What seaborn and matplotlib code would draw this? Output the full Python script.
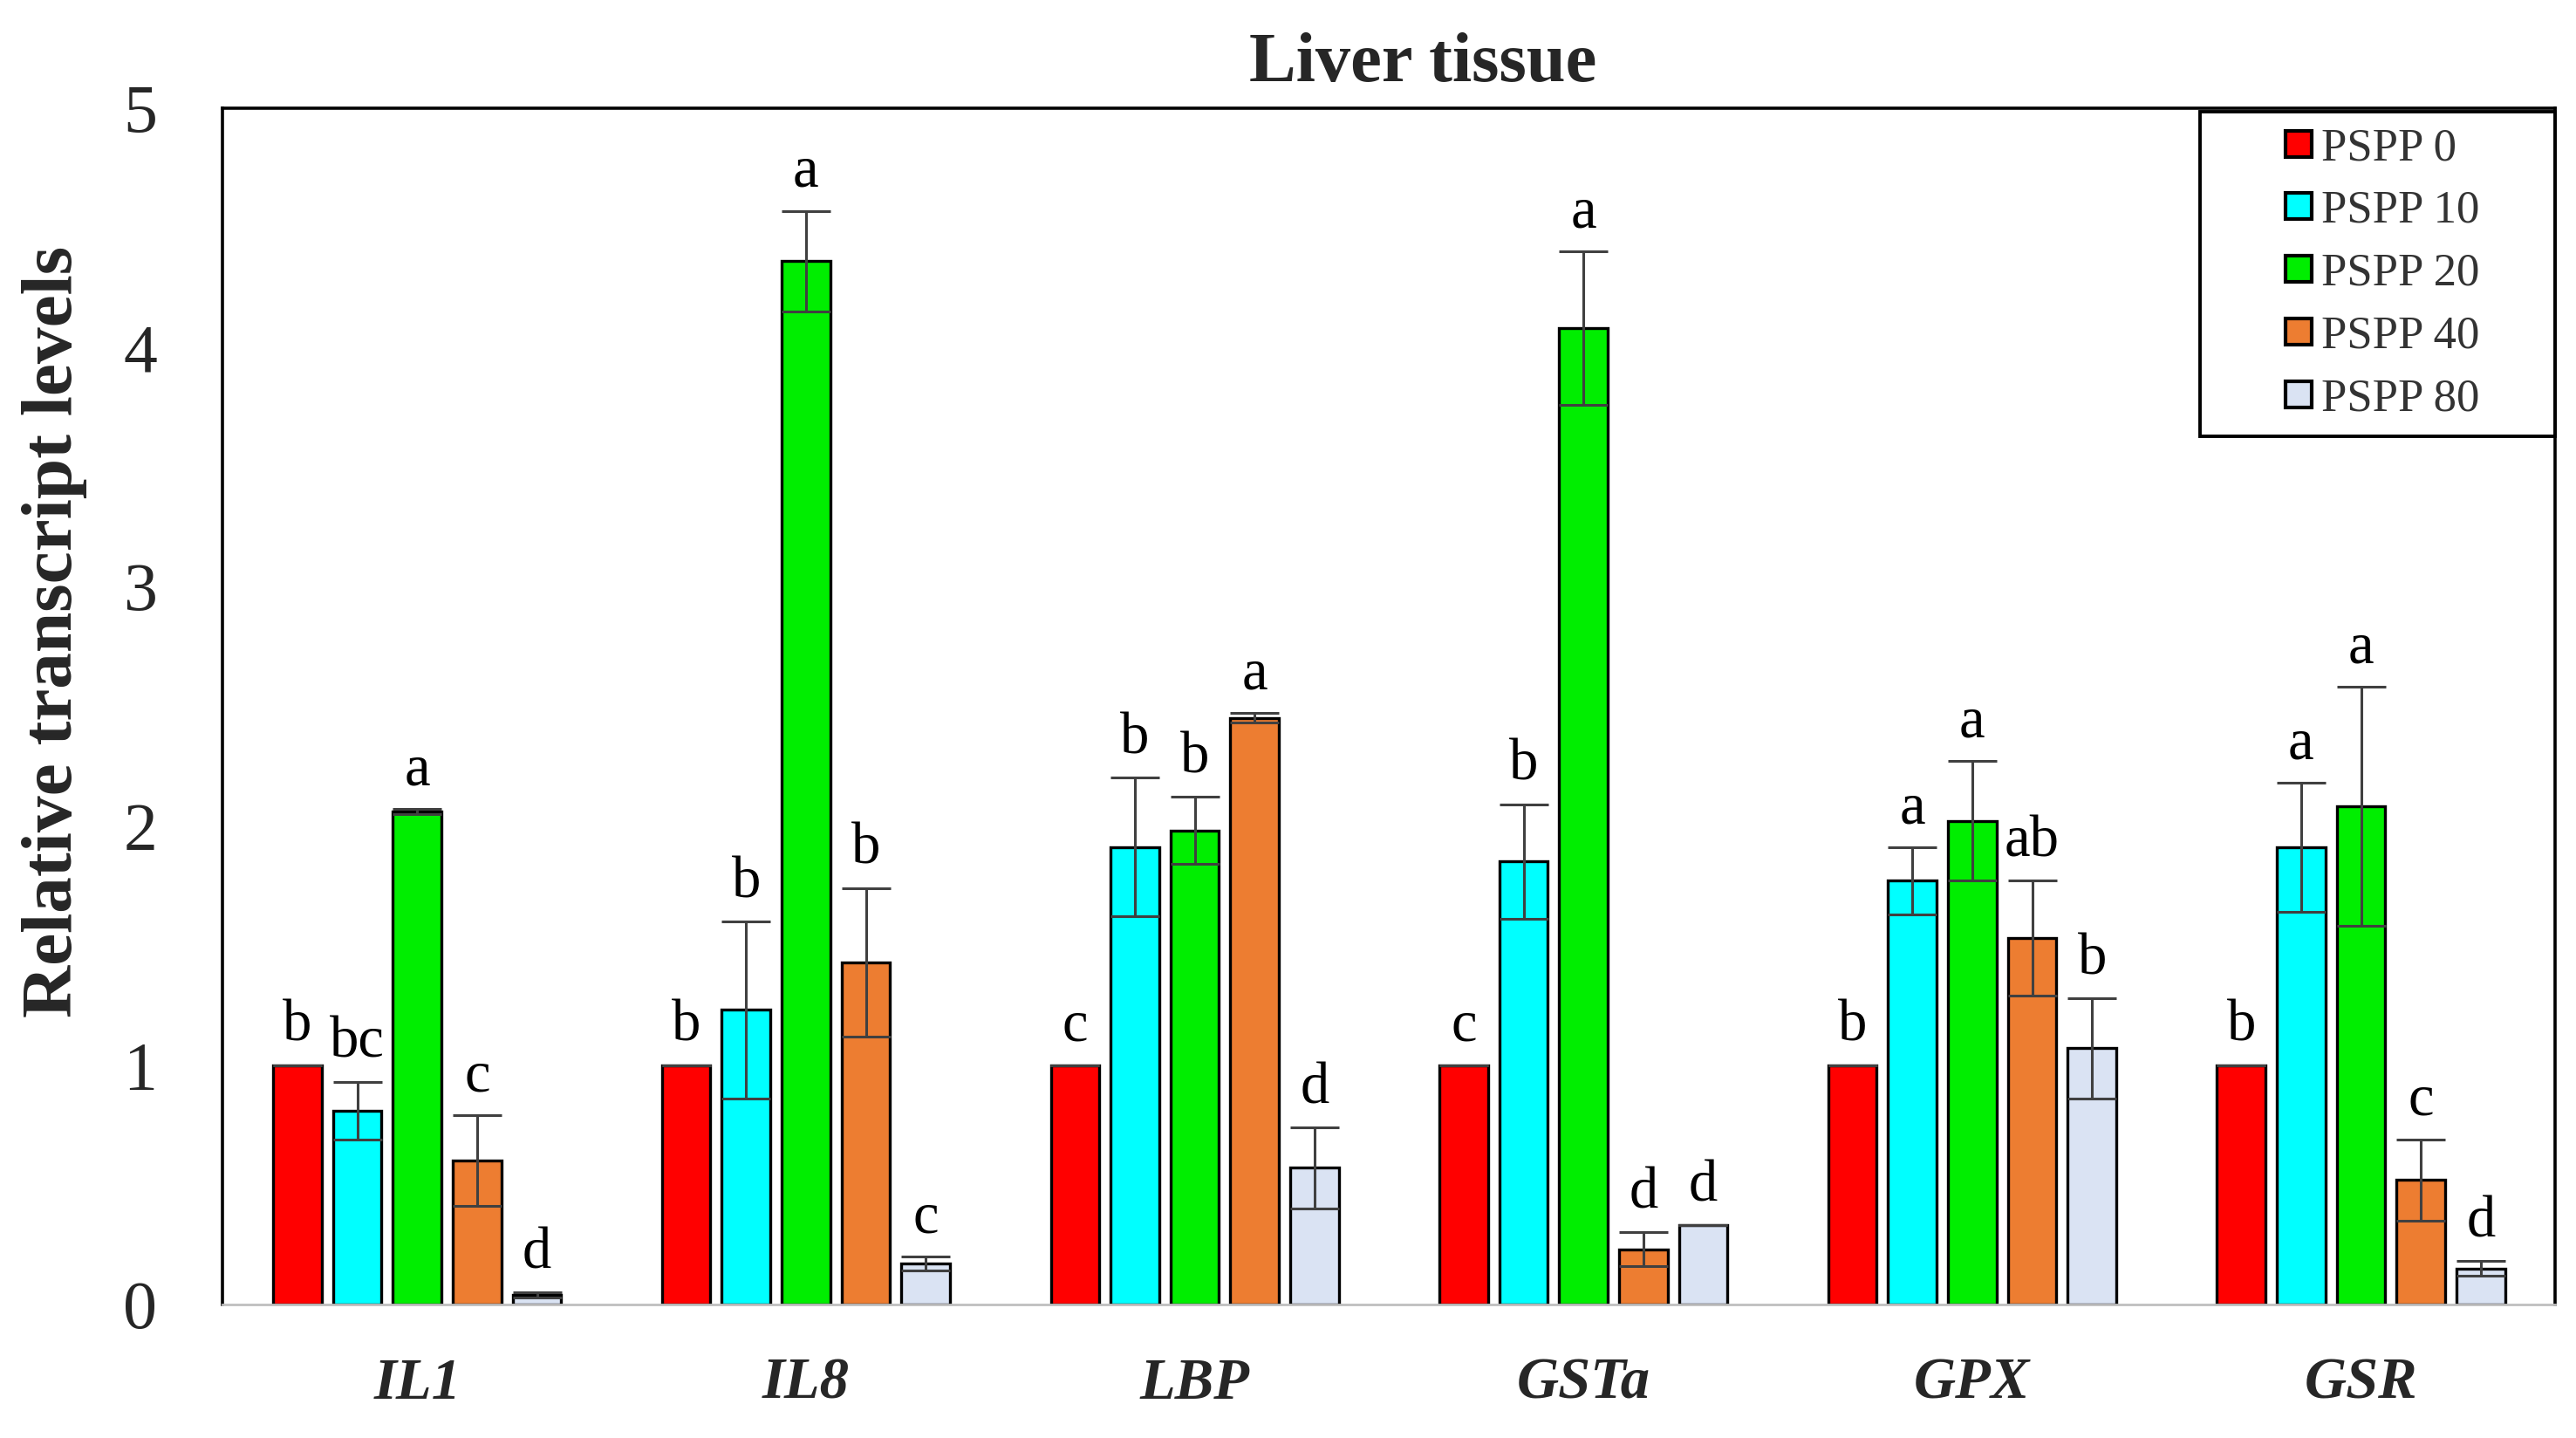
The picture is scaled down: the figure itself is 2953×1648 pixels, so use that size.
import pandas as pd
import seaborn as sns
import matplotlib.pyplot as plt
from matplotlib.lines import Line2D

genes = ['IL1', 'IL8', 'LBP', 'GSTa', 'GPX', 'GSR']
groups = ['PSPP 0', 'PSPP 10', 'PSPP 20', 'PSPP 40', 'PSPP 80']
colors = ['#FF0000', '#00FFFF', '#00EE00', '#ED7D31', '#DAE3F3']

# mean values per group (rows follow groups, columns follow genes)
pspp0 = [1.0, 1.0, 1.0, 1.0, 1.0, 1.0]
pspp10 = [0.81, 1.23, 1.91, 1.85, 1.77, 1.91]
pspp20 = [2.06, 4.36, 1.98, 4.08, 2.02, 2.08]
pspp40 = [0.60, 1.43, 2.45, 0.23, 1.53, 0.52]
pspp80 = [0.04, 0.17, 0.57, 0.33, 1.07, 0.15]

err0 = [0.0, 0.0, 0.0, 0.0, 0.0, 0.0]
err10 = [0.12, 0.37, 0.29, 0.24, 0.14, 0.27]
err20 = [0.01, 0.21, 0.14, 0.32, 0.25, 0.50]
err40 = [0.19, 0.31, 0.02, 0.07, 0.24, 0.17]
err80 = [0.01, 0.03, 0.17, 0.0, 0.21, 0.03]

let0 = ['b', 'b', 'c', 'c', 'b', 'b']
let10 = ['bc', 'b', 'b', 'b', 'a', 'a']
let20 = ['a', 'a', 'b', 'a', 'a', 'a']
let40 = ['c', 'b', 'a', 'd', 'ab', 'c']
let80 = ['d', 'c', 'd', 'd', 'b', 'd']

means = [pspp0, pspp10, pspp20, pspp40, pspp80]
errs = [err0, err10, err20, err40, err80]
letters = [let0, let10, let20, let40, let80]

rows = []
for g, vals in zip(groups, means):
    for gene, v in zip(genes, vals):
        rows.append({'Gene': gene, 'Group': g, 'Value': v})
df = pd.DataFrame(rows)

sns.set_style('white')
plt.rcParams['font.family'] = ['Liberation Serif', 'DejaVu Serif']

fig = plt.figure(figsize=(14.765, 8.24), dpi=200)
ax = fig.add_axes([0.0865, 0.093, 0.9055, 0.832])

sns.barplot(data=df, x='Gene', y='Value', hue='Group', order=genes, hue_order=groups,
            palette=colors, saturation=1, width=0.77, gap=0.19, edgecolor='black',
            linewidth=1.2, errorbar=None, legend=False, ax=ax)

for cont, e, lets in zip(ax.containers, errs, letters):
    xs = [b.get_x() + b.get_width() / 2 for b in cont]
    ys = [b.get_height() for b in cont]
    ax.errorbar(xs, ys, yerr=e, fmt='none', ecolor='#404040', elinewidth=1.1,
                capsize=10, capthick=1.1, zorder=5)
    for x, y, er, t in zip(xs, ys, e, lets):
        ax.text(x, y + er + 0.05, t, ha='center', va='bottom', fontsize=24, color='black')

ax.set_ylim(0, 5)
ax.set_xlim(-0.5, 5.5)
ax.set_yticks([0, 1, 2, 3, 4, 5])
ax.tick_params(axis='y', length=0, pad=27, labelsize=28)
ax.tick_params(axis='x', length=0, pad=22)
ax.set_xticks(range(len(genes)))
ax.set_xticklabels(genes, fontsize=24, fontstyle='italic', fontweight='bold')
ax.set_xlabel('')
ax.set_ylabel('Relative transcript levels', fontsize=30, fontweight='bold')
ax.yaxis.set_label_coords(-0.058, 0.562)
ax.set_title('Liver tissue', fontsize=29, fontweight='bold', pad=11, x=0.5145)

for s in ['left', 'top', 'right']:
    ax.spines[s].set_color('black')
    ax.spines[s].set_linewidth(1.3)
ax.spines['bottom'].set_color('#BFBFBF')
ax.spines['bottom'].set_linewidth(1.0)

handles = [Line2D([], [], linestyle='none', marker='s', markersize=11,
                  markerfacecolor=c, markeredgecolor='black', markeredgewidth=1.5)
           for c in colors]
leg = ax.legend(handles, groups, loc='upper left', bbox_to_anchor=(0.8475, 0.997, 0.1525, 0),
                mode='expand', borderaxespad=0, fontsize=19, frameon=True, fancybox=False,
                edgecolor='black', framealpha=1, handlelength=3.6, handletextpad=-1.3,
                labelspacing=0.45, borderpad=0.35, numpoints=1)
leg.get_frame().set_linewidth(1.4)
for t in leg.get_texts():
    t.set_color('#333333')

fig.savefig('out.png', dpi=200)
